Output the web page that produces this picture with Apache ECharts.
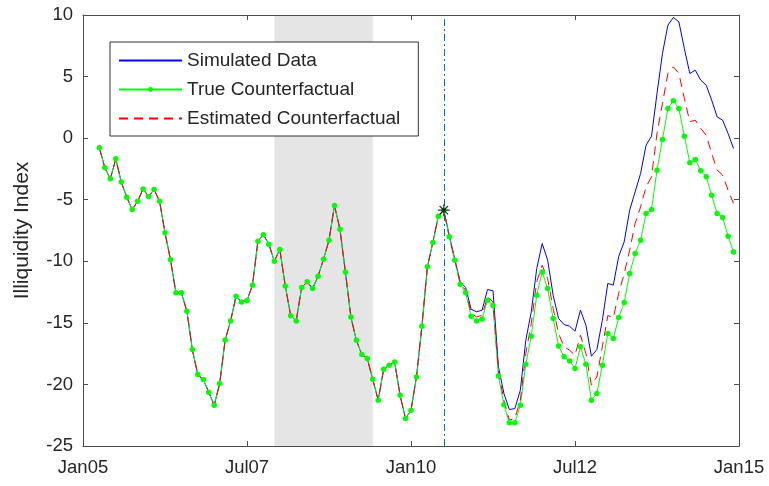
<!DOCTYPE html>
<html>
<head>
<meta charset="utf-8">
<script src="https://cdn.jsdelivr.net/npm/echarts@6/dist/echarts.min.js"></script>
<style>
html,body{margin:0;padding:0;background:#fff;}
#chart{width:769px;height:486px;}
</style>
</head>
<body>
<div id="chart"></div>
<script>
// Month index 0 = Jan 2005; data start at month 3 (Apr 2005)
const firstMonth = 3;
const treatmentMonth = 66;               // Jul 2010
const recessionStart = 35, recessionEnd = 53; // Dec 2007 - Jun 2009
const tickLabels = {0:'Jan05', 30:'Jul07', 60:'Jan10', 90:'Jul12', 120:'Jan15'};

// Pre-treatment values (months 3..66), shared by all series
const preValues = [-0.79,-2.41,-3.3,-1.68,-3.57,-4.79,-5.8,-5.12,-4.12,-4.74,
  -4.17,-5.12,-7.69,-9.86,-12.56,-12.56,-14.05,-17.17,-19.2,-19.6,
  -20.63,-21.7,-19.93,-16.4,-14.84,-12.83,-13.3,-13.19,-11.94,-8.37,
  -7.85,-8.61,-9.99,-9.04,-12.0,-14.43,-14.84,-12.13,-11.67,-12.21,
  -11.21,-9.83,-8.29,-5.47,-7.39,-10.86,-14.52,-16.41,-17.57,-17.9,
  -19.58,-21.28,-18.77,-18.44,-18.17,-20.88,-22.77,-22.1,-19.39,-15.27,
  -10.45,-8.47,-6.34,-5.85];

// Post-treatment (months 67..119)
const simulatedPost = [-7.9,-9.8,-11.67,-12.13,-13.9,-14.1,-13.97,-12.29,-12.4,-18.58,
  -20.74,-22.04,-21.96,-20.47,-16.41,-14.1,-10.59,-8.56,-9.91,-12.75,
  -14.65,-15.14,-15.27,-15.68,-13.97,-15.19,-17.71,-17.17,-14.8,-11.8,
  -11.94,-9.6,-8.42,-5.85,-4.36,-2.87,-0.57,0.16,3.63,6.88,
  9.18,9.8,9.45,7.28,5.25,5.52,4.71,4.3,3.09,1.73,
  1.46,0.38,-0.84];
const trueCFPost = [-8.01,-9.91,-11.86,-12.56,-14.46,-14.84,-14.68,-13.16,-13.59,-19.31,
  -21.66,-23.12,-23.12,-21.69,-18.36,-16.08,-12.75,-10.86,-12.21,-14.65,
  -16.87,-17.76,-18.09,-18.71,-16.95,-18.36,-21.28,-20.74,-18.44,-15.87,
  -16.27,-14.57,-13.35,-10.99,-9.37,-8.29,-6.12,-5.79,-2.6,-0.11,
  2.41,3.03,2.41,0.16,-2.0,-1.73,-2.65,-3.14,-4.63,-6.12,
  -6.44,-7.96,-9.24];
const estCFPost = [-8.0,-9.85,-11.8,-12.35,-14.2,-14.52,-14.38,-12.89,-13.3,-18.98,
  -21.28,-22.9,-22.77,-21.28,-17.49,-15.05,-11.67,-10.32,-11.4,-13.83,
  -15.87,-16.95,-17.22,-17.63,-16.0,-17.49,-20.06,-19.39,-16.95,-14.4,
  -14.6,-12.6,-11.0,-9.1,-6.93,-5.58,-3.95,-3.14,0.38,2.82,
  5.26,5.79,5.26,3.22,1.33,1.46,0.79,0.24,-1.24,-2.6,
  -3.0,-4.22,-5.3];

const seriesNames = ['Simulated Data','True Counterfactual','Estimated Counterfactual'];

function toPairs(vals){ return vals.map((v,i)=>[firstMonth+i, v]); }
const simulated = toPairs(preValues.concat(simulatedPost));
const trueCF = toPairs(preValues.concat(trueCFPost));
const estCF = toPairs(preValues.concat(estCFPost));
const treatmentPoint = [[treatmentMonth, preValues[treatmentMonth-firstMonth]]];

const FONT = 'Liberation Sans, Arial, sans-serif';
const AX = '#4d4d4d';
const TXT = '#262626';
const chart = echarts.init(document.getElementById('chart'));
const hiddenAxisCommon = {
  axisLine:{show:true, onZero:false, lineStyle:{color:AX, width:1}},
  axisTick:{show:true, inside:true, length:5, lineStyle:{color:AX}},
  axisLabel:{show:false}, splitLine:{show:false}
};
chart.setOption({
  animation:false,
  backgroundColor:'#fff',
  grid:{left:83, right:30, top:15, bottom:40, containLabel:false},
  legend:{
    data:[
      {name:seriesNames[0], itemStyle:{opacity:0}},
      {name:seriesNames[1]},
      {name:seriesNames[2], itemStyle:{opacity:0}}
    ],
    orient:'vertical', left:110, top:42,
    itemWidth:63, itemHeight:6, itemGap:10,
    padding:[9,18,8,8],
    borderColor:'#333', borderWidth:1, backgroundColor:'#fff',
    textStyle:{fontFamily:FONT, fontSize:19, color:TXT}
  },
  xAxis:[{
    type:'value', min:0, max:120, interval:30, z:10,
    axisLine:{show:true, onZero:false, lineStyle:{color:AX, width:1}},
    axisTick:{show:true, inside:true, length:5, lineStyle:{color:AX}},
    axisLabel:{fontFamily:FONT, fontSize:18.5, color:TXT, margin:12,
      formatter:v=>tickLabels[v]||''},
    splitLine:{show:false}
  },{
    type:'value', min:0, max:120, interval:30, position:'top', z:10,
    ...hiddenAxisCommon
  }],
  yAxis:[{
    type:'value', min:-25, max:10, interval:5, z:10,
    name:'Illiquidity Index', nameLocation:'middle', nameGap:50, nameRotate:90,
    nameTextStyle:{fontFamily:FONT, fontSize:21, color:TXT},
    axisLine:{show:true, onZero:false, lineStyle:{color:AX, width:1}},
    axisTick:{show:true, inside:true, length:5, lineStyle:{color:AX}},
    axisLabel:{fontFamily:FONT, fontSize:18.5, color:TXT, margin:10},
    splitLine:{show:false}
  },{
    type:'value', min:-25, max:10, interval:5, position:'right', z:10,
    ...hiddenAxisCommon
  }],
  series:[
    {
      name:seriesNames[0], type:'line', data:simulated, showSymbol:false, symbol:'none',
      lineStyle:{color:'#0000ff', width:1}, itemStyle:{color:'#0000ff'},
      markArea:{silent:true, itemStyle:{color:'#e5e5e5'},
        data:[[{xAxis:recessionStart},{xAxis:recessionEnd}]]},
      markLine:{silent:true, symbol:'none', label:{show:false},
        lineStyle:{color:'#0072BD', width:1, type:[7,3,2,3]},
        data:[{xAxis:treatmentMonth}]}
    },
    {
      name:seriesNames[1], type:'line', data:trueCF, symbol:'circle', symbolSize:5.5,
      lineStyle:{color:'#00ff00', width:1}, itemStyle:{color:'#00ff00'}
    },
    {
      name:seriesNames[2], type:'line', data:estCF, symbol:'none',
      lineStyle:{color:'#ff0000', width:1, type:[9,6]}, itemStyle:{color:'#ff0000'}
    },
    {
      name:'treatment', type:'scatter', data:treatmentPoint, z:5,
      symbol:'path://M0,-10L0,10M-10,0L10,0M-7,-7L7,7M-7,7L7,-7', symbolSize:12,
      itemStyle:{color:'none', borderColor:'#000', borderWidth:1.2}
    }
  ]
});
</script>
</body>
</html>
